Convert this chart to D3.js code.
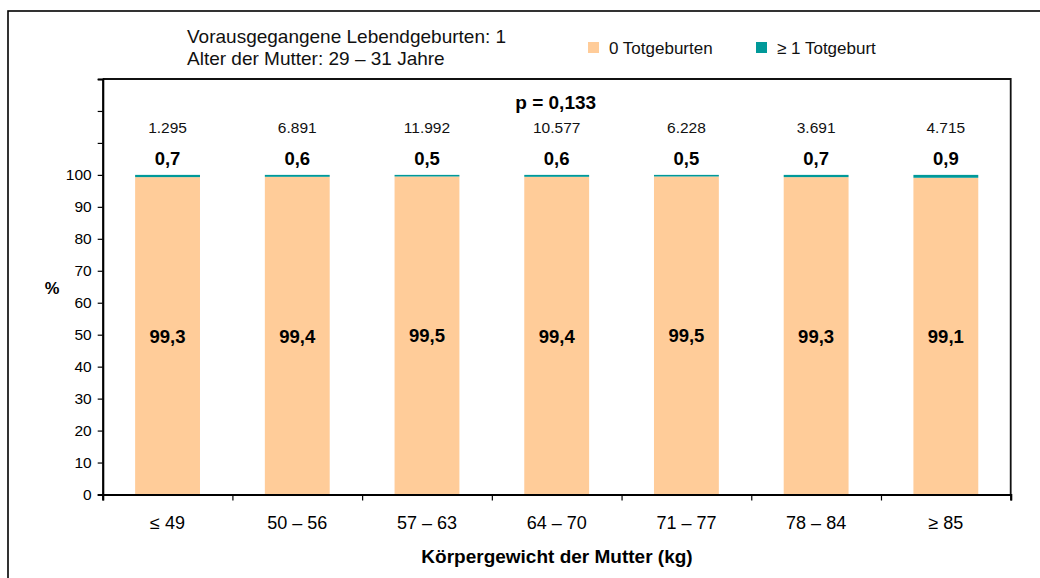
<!DOCTYPE html>
<html>
<head>
<meta charset="utf-8">
<script src="https://cdn.jsdelivr.net/npm/d3@7"></script>
<style>
  html, body { margin: 0; padding: 0; background: #fff; }
  svg { display: block; font-family: "Liberation Sans", Arial, sans-serif; }
  .axis path, .axis line { stroke: #000; }
</style>
</head>
<body>
<svg id="chart" width="1040" height="578"></svg>
<script>
// Weight classes of the mother and the stillbirth shares per class
const categories = ["\u2264 49", "50 \u2013 56", "57 \u2013 63", "64 \u2013 70", "71 \u2013 77", "78 \u2013 84", "\u2265 85"];
const noStillbirth = [99.3, 99.4, 99.5, 99.4, 99.5, 99.3, 99.1];
const stillbirth = [0.7, 0.6, 0.5, 0.6, 0.5, 0.7, 0.9];
const caseCounts = ["1.295", "6.891", "11.992", "10.577", "6.228", "3.691", "4.715"];
const yTicks = [0, 10, 20, 30, 40, 50, 60, 70, 80, 90, 100, 110, 120, 130];
const seriesNames = ["0 Totgeburten", "\u2265 1 Totgeburt"];
const headerLines = ["Vorausgegangene Lebendgeburten: 1", "Alter der Mutter: 29 \u2013 31 Jahre"];
const pValue = "p = 0,133";

const colors = ["#FFCC99", "#009999"];
const fmt = v => v.toFixed(1).replace(".", ",");

const svg = d3.select("#chart");
const plotL = 102.7, plotR = 1010.7, plotT = 79, plotB = 494.5;

// outer frame
svg.append("rect")
  .attr("x", 8).attr("y", 11).attr("width", 1040).attr("height", 580)
  .attr("fill", "none").attr("stroke", "#000").attr("stroke-width", 1.6);

const x = d3.scaleBand().domain(categories).range([plotL, plotR])
  .paddingInner(0.5).paddingOuter(0.25);
const xEdges = d3.scaleLinear().domain([0, categories.length]).range([plotL, plotR]);
const y = d3.scaleLinear().domain([0, 130]).range([plotB, plotT]);

// plot frame (top and right edges)
svg.append("path")
  .attr("d", `M${plotL},${plotT}H${plotR}V${plotB}`)
  .attr("fill", "none").attr("stroke", "#111").attr("stroke-width", 1.8);

// stacked bars
const rows = categories.map((c, i) => ({ cat: c, zero: noStillbirth[i], one: stillbirth[i] }));
const stack = d3.stack().keys(["zero", "one"])(rows);
svg.append("g").selectAll("g").data(stack).join("g")
  .attr("fill", (d, i) => colors[i])
  .selectAll("rect").data(d => d).join("rect")
  .attr("x", d => x(d.data.cat))
  .attr("width", x.bandwidth())
  .attr("y", d => y(d[1]))
  .attr("height", d => y(d[0]) - y(d[1]));

// y axis
const yAxis = svg.append("g").attr("class", "axis")
  .attr("transform", `translate(${plotL},0)`)
  .call(d3.axisLeft(y).tickValues(yTicks).tickSize(5).tickPadding(6)
    .tickFormat(d => d <= 100 ? d : ""));
yAxis.select(".domain").attr("stroke-width", 2.2);
yAxis.selectAll(".tick line").attr("stroke-width", 1.2);
yAxis.selectAll("text").attr("font-size", 15.5).attr("fill", "#000")
  .attr("font-family", "Liberation Sans, Arial, sans-serif");

// x axis: boundary ticks
const xAxis = svg.append("g").attr("class", "axis")
  .attr("transform", `translate(0,${plotB})`)
  .call(d3.axisBottom(xEdges).tickValues(d3.range(categories.length + 1))
    .tickSize(6).tickFormat(""));
xAxis.select(".domain").attr("stroke-width", 2.2);
xAxis.selectAll(".tick line").attr("stroke-width", 1.2).attr("stroke", "#444");

// x axis: category labels
const xLab = svg.append("g")
  .attr("transform", `translate(0,${plotB})`)
  .call(d3.axisBottom(x).tickSize(0).tickPadding(22));
xLab.select(".domain").remove();
xLab.selectAll("text").attr("font-size", 18).attr("fill", "#000")
  .attr("font-family", "Liberation Sans, Arial, sans-serif");

// value labels inside the bars
svg.append("g").selectAll("text").data(rows).join("text")
  .attr("x", d => x(d.cat) + x.bandwidth() / 2)
  .attr("y", d => y(d.zero / 2) + 7)
  .attr("text-anchor", "middle").attr("font-size", 18.5).attr("font-weight", "bold")
  .text(d => fmt(d.zero));

// stillbirth share above the bars
svg.append("g").selectAll("text").data(rows).join("text")
  .attr("x", d => x(d.cat) + x.bandwidth() / 2)
  .attr("y", 164.5)
  .attr("text-anchor", "middle").attr("font-size", 18.5).attr("font-weight", "bold")
  .text(d => fmt(d.one));

// case counts
svg.append("g").selectAll("text").data(caseCounts).join("text")
  .attr("x", (d, i) => x(categories[i]) + x.bandwidth() / 2)
  .attr("y", 133)
  .attr("text-anchor", "middle").attr("font-size", 15.5).attr("fill", "#111")
  .text(d => d);

// p value
svg.append("text")
  .attr("x", (plotL + plotR) / 2 - 1).attr("y", 109)
  .attr("text-anchor", "middle").attr("font-size", 19).attr("font-weight", "bold")
  .text(pValue);

// header
svg.append("g").selectAll("text").data(headerLines).join("text")
  .attr("x", 187).attr("y", (d, i) => 43 + i * 22)
  .attr("font-size", 19).attr("fill", "#111")
  .text(d => d);

// legend
const legendX = [588, 756];
const lg = svg.append("g").selectAll("g").data(seriesNames).join("g")
  .attr("transform", (d, i) => `translate(${legendX[i]},42)`);
lg.append("rect").attr("width", 11).attr("height", 11)
  .attr("fill", (d, i) => colors[i]);
lg.append("text").attr("x", 21).attr("y", 11.5)
  .attr("font-size", 17).attr("fill", "#111")
  .text(d => d);

// axis titles
svg.append("text")
  .attr("x", 52).attr("y", 294)
  .attr("text-anchor", "middle").attr("font-size", 16.5).attr("font-weight", "bold")
  .text("%");
svg.append("text")
  .attr("x", 557).attr("y", 562.5)
  .attr("text-anchor", "middle").attr("font-size", 19).attr("font-weight", "bold")
  .text("Körpergewicht der Mutter (kg)");
</script>
</body>
</html>
